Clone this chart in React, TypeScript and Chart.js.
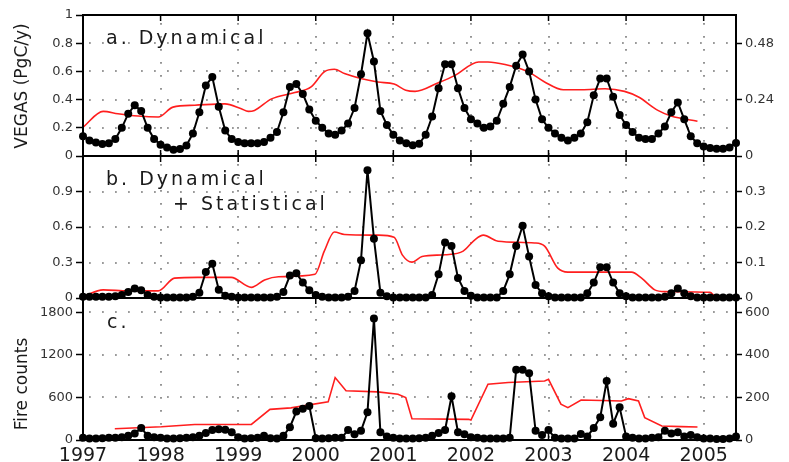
import React, { useEffect, useRef } from "react";
import { Chart, registerables } from "chart.js";

Chart.register(...registerables);

// ---------------- DATA ----------------
const START_YEAR = 1997;
const yearTicks = [1997, 1998, 1999, 2000, 2001, 2002, 2003, 2004, 2005];

// Monthly series, Jan 1997 .. Jun 2005
const vegasDynamical = [
  0.14, 0.11, 0.095, 0.085, 0.09, 0.12, 0.2, 0.3, 0.36, 0.32, 0.2, 0.12,
  0.08, 0.06, 0.045, 0.05, 0.075, 0.16, 0.31, 0.5, 0.56, 0.35, 0.18, 0.12,
  0.1, 0.09, 0.09, 0.09, 0.1, 0.13, 0.17, 0.31, 0.49, 0.51, 0.44, 0.33,
  0.25, 0.2, 0.16, 0.15, 0.18, 0.23, 0.34, 0.58, 0.87, 0.67, 0.32, 0.22,
  0.15, 0.11, 0.09, 0.076, 0.087, 0.15, 0.28, 0.48, 0.65, 0.65, 0.48, 0.34,
  0.26, 0.23, 0.2, 0.21, 0.25, 0.37, 0.49, 0.64, 0.72, 0.6, 0.4, 0.26,
  0.2, 0.16, 0.13, 0.11, 0.13, 0.16, 0.24, 0.43, 0.55, 0.55, 0.42, 0.29,
  0.22, 0.17, 0.13, 0.12, 0.12, 0.16, 0.21, 0.31, 0.38, 0.26, 0.14, 0.09,
  0.068, 0.057, 0.052, 0.052, 0.06, 0.093,
];

const vegasDynStat = [
  0.01, 0.01, 0.01, 0.01, 0.01, 0.015, 0.025, 0.05, 0.08, 0.065, 0.025, 0.01,
  0.005, 0.005, 0.005, 0.005, 0.005, 0.01, 0.045, 0.22, 0.29, 0.07, 0.02, 0.01,
  0.005, 0.005, 0.005, 0.005, 0.005, 0.005, 0.01, 0.05, 0.19, 0.21, 0.13, 0.065,
  0.025, 0.01, 0.005, 0.005, 0.005, 0.01, 0.06, 0.32, 1.08, 0.5, 0.045, 0.015,
  0.005, 0.005, 0.005, 0.005, 0.005, 0.005, 0.025, 0.2, 0.47, 0.44, 0.17, 0.06,
  0.02, 0.005, 0.005, 0.005, 0.005, 0.06, 0.2, 0.44, 0.61, 0.35, 0.11, 0.04,
  0.015, 0.005, 0.005, 0.005, 0.005, 0.005, 0.04, 0.13, 0.26, 0.26, 0.13, 0.04,
  0.015, 0.005, 0.005, 0.005, 0.005, 0.005, 0.01, 0.04, 0.08, 0.04, 0.015, 0.005,
  0.005, 0.005, 0.005, 0.005, 0.005, 0.005,
];

const fireCounts = [
  30, 20, 20, 25, 30, 30, 40, 60, 90, 170, 60, 40,
  30, 20, 20, 25, 30, 40, 60, 100, 140, 150, 145, 110,
  40, 20, 25, 30, 60, 25, 20, 60, 180, 400, 440, 480,
  25, 20, 25, 30, 30, 140, 80, 130, 390, 1710, 110, 50,
  30, 20, 20, 20, 25, 30, 60, 100, 140, 615, 110, 80,
  40, 30, 20, 20, 20, 20, 30, 990, 990, 940, 130, 70,
  140, 30, 20, 20, 20, 85, 50, 170, 320, 830, 230, 460,
  50, 30, 20, 20, 30, 40, 130, 90, 110, 50, 70, 40,
  20, 20, 15, 15, 20, 50,
];

// Red curves (right axes)
const redAYears = [
  1997.0, 1997.26, 1997.45, 1997.71, 1997.97, 1998.16, 1998.44, 1998.83, 1999.04, 1999.13,
  1999.21, 1999.43, 1999.73, 1999.94, 2000.11, 2000.24, 2000.37, 2000.58, 2000.8, 2001.01,
  2001.16, 2001.28, 2001.58, 2001.79, 2002.1, 2002.22, 2002.44, 2002.74, 2002.95, 2003.19,
  2003.43, 2003.73, 2003.98, 2004.16, 2004.41, 2004.58, 2004.92,
];
const redAValues = [
  0.123, 0.19, 0.18, 0.17, 0.166, 0.208, 0.216, 0.222, 0.201, 0.19,
  0.194, 0.243, 0.27, 0.294, 0.358, 0.369, 0.351, 0.33, 0.315, 0.306,
  0.28, 0.275, 0.312, 0.342, 0.4, 0.4, 0.389, 0.358, 0.315, 0.282,
  0.282, 0.286, 0.275, 0.251, 0.194, 0.17, 0.148,
];

const redBYears = [
  1997.0, 1997.26, 1997.58, 1997.97, 1998.18, 1998.48, 1998.91, 1999.17, 1999.34, 1999.52,
  1999.99, 2000.11, 2000.24, 2000.37, 2000.8, 2001.01, 2001.12, 2001.24, 2001.37, 2001.67,
  2001.9, 2002.05, 2002.16, 2002.35, 2002.82, 2002.95, 2003.12, 2003.25, 2004.07, 2004.2,
  2004.37, 2004.5, 2005.08, 2005.16, 2005.42,
];
const redBValues = [
  0.004, 0.023, 0.02, 0.02, 0.056, 0.058, 0.058, 0.03, 0.051, 0.06,
  0.067, 0.132, 0.186, 0.179, 0.177, 0.171, 0.12, 0.101, 0.117, 0.122,
  0.132, 0.164, 0.177, 0.16, 0.155, 0.146, 0.084, 0.073, 0.073, 0.056,
  0.023, 0.018, 0.016, 0.004, 0.004,
];

const redCYears = [
  1997.41, 1998.01, 1998.44, 1999.17, 1999.41, 1999.68, 2000.16, 2000.25, 2000.39, 2000.8,
  2001.06, 2001.16, 2001.24, 2001.97, 2002.0, 2002.22, 2002.48, 2002.95, 2003.0, 2003.16,
  2003.25, 2003.42, 2003.94, 2004.03, 2004.16, 2004.24, 2004.46, 2004.71, 2004.92,
];
const redCValues = [
  53, 62, 73, 73, 144, 151, 179, 293, 231, 226,
  215, 199, 100, 97, 94, 262, 270, 277, 285, 168,
  152, 188, 183, 194, 183, 105, 66, 63, 61,
];

// Axis ticks and labels
const ticksALeft = [0, 0.2, 0.4, 0.6, 0.8, 1];
const labelsALeft = ["0", "0.2", "0.4", "0.6", "0.8", "1"];
const ticksARight = [0, 0.24, 0.48];
const labelsARight = ["0", "0.24", "0.48"];

const ticksBLeft = [0, 0.3, 0.6, 0.9];
const labelsBLeft = ["0", "0.3", "0.6", "0.9"];
const ticksBRight = [0, 0.1, 0.2, 0.3];
const labelsBRight = ["0", "0.1", "0.2", "0.3"];

const ticksCLeft = [0, 600, 1200, 1800];
const labelsCLeft = ["0", "600", "1200", "1800"];
const ticksCRight = [0, 200, 400, 600];
const labelsCRight = ["0", "200", "400", "600"];

// ---------------- CHART HELPERS ----------------
const FONT = "'DejaVu Sans', 'Liberation Sans', sans-serif";
const monthX = (i: number) => START_YEAR + i / 12;
const X_MAX = monthX(vegasDynamical.length - 1);

const decorPlugin = {
  id: "panelDecor",
  beforeDatasetsDraw(chart: any) {
    // dotted grid drawn from the library's scales
    const { ctx, chartArea: a, scales } = chart;
    ctx.save();
    ctx.strokeStyle = "#7a7a7a";
    ctx.lineWidth = 1.6;
    ctx.setLineDash([1.8, 11.2]);
    const yL = scales.yL;
    for (const t of yL.ticks) {
      if (t.value === 0 || Math.abs(t.value - yL.max) < 1e-9) continue;
      const py = Math.round(yL.getPixelForValue(t.value));
      ctx.beginPath();
      ctx.moveTo(a.left + 6, py);
      ctx.lineTo(a.right, py);
      ctx.stroke();
    }
    for (const yr of yearTicks) {
      const px = Math.round(scales.x.getPixelForValue(yr));
      if (px <= a.left + 1 || px >= a.right - 1) continue;
      ctx.beginPath();
      ctx.moveTo(px, a.top + 8);
      ctx.lineTo(px, a.bottom);
      ctx.stroke();
    }
    ctx.restore();
  },
  afterDraw(chart: any, _args: any, opts: any) {
    const { ctx, chartArea: a, scales } = chart;
    ctx.save();
    ctx.strokeStyle = "#000";
    ctx.lineWidth = 1.5;
    ctx.setLineDash([]);
    for (const yr of yearTicks) {
      const px = scales.x.getPixelForValue(yr);
      if (px <= a.left + 1 || px >= a.right - 1) continue;
      ctx.beginPath();
      ctx.moveTo(px, a.top);
      ctx.lineTo(px, a.top + 6);
      ctx.moveTo(px, a.bottom);
      ctx.lineTo(px, a.bottom - 6);
      ctx.stroke();
    }
    ctx.lineWidth = 2;
    ctx.strokeRect(a.left, a.top, a.right - a.left, a.bottom - a.top);

    for (const t of opts.texts || []) {
      ctx.save();
      ctx.fillStyle = "#1a1a1a";
      ctx.font = t.font;
      (ctx as any).letterSpacing = t.spacing || "0px";
      if (t.rotate) {
        ctx.translate(t.x, t.y);
        ctx.rotate(-Math.PI / 2);
        ctx.textAlign = "center";
        ctx.textBaseline = "middle";
        ctx.fillText(t.text, 0, 0);
      } else {
        ctx.textAlign = "left";
        ctx.textBaseline = "alphabetic";
        ctx.fillText(t.text, t.x, t.y);
      }
      ctx.restore();
    }
    ctx.restore();
  },
};

type Panel = {
  top: number;
  height: number;
  padTop: number;
  padBottom: number;
  black: number[];
  redX: number[];
  redY: number[];
  smoothRed: boolean;
  leftMax: number;
  rightMax: number;
  leftTicks: number[];
  leftLabels: string[];
  rightTicks: number[];
  rightLabels: string[];
  showX: boolean;
  texts: any[];
};

function labelFor(ticks: number[], labels: string[]) {
  return (v: any) => {
    const i = ticks.findIndex((t) => Math.abs(t - Number(v)) < 1e-9);
    return i >= 0 ? labels[i] : "";
  };
}

function buildConfig(p: Panel): any {
  return {
    type: "line",
    data: {
      datasets: [
        {
          data: p.black.map((v, i) => ({ x: monthX(i), y: v })),
          borderColor: "#000",
          borderWidth: 2,
          pointRadius: 4,
          pointBackgroundColor: "#000",
          pointBorderColor: "#000",
          pointBorderWidth: 0,
          yAxisID: "yL",
          order: 0,
          clip: 8,
        },
        {
          data: p.redX.map((x, i) => ({ x, y: p.redY[i] })),
          borderColor: "#ff1e1e",
          borderWidth: 1.6,
          pointRadius: 0,
          cubicInterpolationMode: p.smoothRed ? "monotone" : "default",
          tension: 0,
          yAxisID: "yR",
          order: 1,
          clip: 4,
        },
      ],
    },
    options: {
      responsive: false,
      animation: false,
      devicePixelRatio: 1,
      events: [],
      layout: { padding: { top: p.padTop, bottom: p.padBottom, left: 0, right: 0 } },
      plugins: {
        legend: { display: false },
        tooltip: { enabled: false },
        panelDecor: { texts: p.texts },
      },
      scales: {
        x: {
          type: "linear",
          min: START_YEAR,
          max: X_MAX,
          afterBuildTicks: (s: any) => {
            s.ticks = yearTicks.map((v) => ({ value: v }));
          },
          afterFit: (s: any) => {
            s.height = p.showX ? 22 : 0;
          },
          ticks: {
            display: p.showX,
            autoSkip: false,
            maxRotation: 0,
            padding: 5,
            color: "#1a1a1a",
            font: { family: FONT, size: 19 },
            callback: (v: any) => String(v),
          },
          grid: {
            drawTicks: false,
            drawOnChartArea: false,
          },
          border: { display: false },
        },
        yL: {
          type: "linear",
          position: "left",
          min: 0,
          max: p.leftMax,
          afterBuildTicks: (s: any) => {
            s.ticks = p.leftTicks.map((v) => ({ value: v }));
          },
          afterFit: (s: any) => {
            s.width = 83;
          },
          ticks: {
            padding: 3,
            color: "#333",
            font: { family: FONT, size: 13 },
            callback: labelFor(p.leftTicks, p.leftLabels),
          },
          grid: {
            drawOnChartArea: false,
            tickColor: "#000",
            tickLength: 7,
            tickWidth: 1.5,
          },
          border: { display: false },
        },
        yR: {
          type: "linear",
          position: "right",
          min: 0,
          max: p.rightMax,
          afterBuildTicks: (s: any) => {
            s.ticks = p.rightTicks.map((v) => ({ value: v }));
          },
          afterFit: (s: any) => {
            s.width = 53;
          },
          ticks: {
            padding: 3,
            color: "#333",
            font: { family: FONT, size: 13 },
            callback: labelFor(p.rightTicks, p.rightLabels),
          },
          grid: {
            drawOnChartArea: false,
            tickColor: "#000",
            tickLength: 6,
            tickWidth: 1.5,
          },
          border: { display: false },
        },
      },
    },
    plugins: [decorPlugin],
  };
}

const PANEL_FONT = `19px ${FONT}`;
const TITLE_FONT = `17px ${FONT}`;

const panels: Panel[] = [
  {
    top: 0,
    height: 175,
    padTop: 15,
    padBottom: 19,
    black: vegasDynamical,
    redX: redAYears,
    redY: redAValues,
    smoothRed: true,
    leftMax: 1,
    rightMax: 0.6,
    leftTicks: ticksALeft,
    leftLabels: labelsALeft,
    rightTicks: ticksARight,
    rightLabels: labelsARight,
    showX: false,
    texts: [
      { text: "VEGAS (PgC/y)", x: 23, y: 86, font: TITLE_FONT, rotate: true },
      { text: "a. Dynamical", x: 106, y: 44, font: PANEL_FONT, spacing: "3px" },
    ],
  },
  {
    top: 140,
    height: 175,
    padTop: 16,
    padBottom: 17,
    black: vegasDynStat,
    redX: redBYears,
    redY: redBValues,
    smoothRed: true,
    leftMax: 1.2,
    rightMax: 0.4,
    leftTicks: ticksBLeft,
    leftLabels: labelsBLeft,
    rightTicks: ticksBRight,
    rightLabels: labelsBRight,
    showX: false,
    texts: [
      { text: "b. Dynamical", x: 106, y: 45, font: PANEL_FONT, spacing: "3px" },
      { text: "+ Statistical", x: 173, y: 70, font: PANEL_FONT, spacing: "3px" },
    ],
  },
  {
    top: 282,
    height: 180,
    padTop: 16,
    padBottom: 0,
    black: fireCounts,
    redX: redCYears,
    redY: redCValues,
    smoothRed: false,
    leftMax: 2000,
    rightMax: 2000 / 3,
    leftTicks: ticksCLeft,
    leftLabels: labelsCLeft,
    rightTicks: ticksCRight,
    rightLabels: labelsCRight,
    showX: true,
    texts: [
      { text: "Fire counts", x: 23, y: 102, font: TITLE_FONT, rotate: true },
      { text: "c.", x: 107, y: 46, font: PANEL_FONT, spacing: "3px" },
    ],
  },
];

function PanelChart({ panel }: { panel: Panel }) {
  const ref = useRef<HTMLCanvasElement | null>(null);
  useEffect(() => {
    if (!ref.current) return;
    const chart = new Chart(ref.current, buildConfig(panel));
    return () => chart.destroy();
  }, [panel]);
  return (
    <canvas
      ref={ref}
      width={789}
      height={panel.height}
      style={{
        position: "absolute",
        left: 0,
        top: panel.top,
        width: 789,
        height: panel.height,
        display: "block",
      }}
    />
  );
}

export default function App() {
  return (
    <div
      style={{
        position: "fixed",
        left: 0,
        top: 0,
        width: 789,
        height: 462,
        background: "#fff",
        overflow: "hidden",
      }}
    >
      {panels.map((p, i) => (
        <PanelChart key={i} panel={p} />
      ))}
    </div>
  );
}
